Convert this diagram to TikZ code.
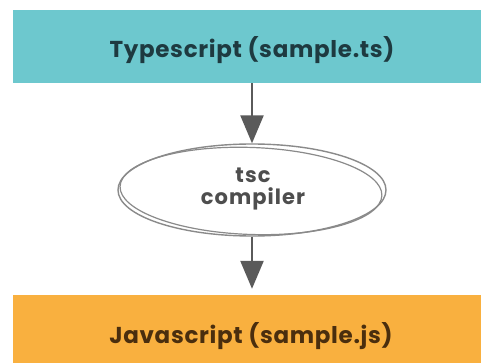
\documentclass[tikz,border=0pt]{standalone}
\usepackage{fontspec}
\newfontfamily\labelfont{Poppins}[LetterSpace=3]
\newfontfamily\complabelfont{Poppins}[LetterSpace=5]
\usetikzlibrary{shapes.geometric,arrows.meta}
\definecolor{tsteal}{HTML}{6DC8CE}
\definecolor{jsorange}{HTML}{F9B03F}
\definecolor{arrowgray}{HTML}{5A5A5A}
\definecolor{ellgray}{HTML}{8A8A8A}
\definecolor{tstext}{HTML}{1E3A40}
\definecolor{jstext}{HTML}{4A2E0E}
\definecolor{comptext}{HTML}{4E4E4E}
\tikzset{
  box/.style={rectangle, inner sep=0pt, minimum width=468pt},
  boxtext/.style={font=\labelfont\bfseries\fontsize{23}{25}\selectfont, inner sep=0pt},
  flowarrow/.style={draw=arrowgray, line width=2.4pt, -{Triangle[length=28pt,width=23pt]}},
  compell/.style={ellipse, draw=ellgray, line width=1.4pt, minimum width=268pt, minimum height=92pt, inner sep=0pt},
}
\begin{document}
\begin{tikzpicture}[x=1pt,y=-1pt]
\useasboundingbox (0,0) rectangle (481,363);
\fill[white] (0,0) rectangle (481,363);
\node[box, fill=tsteal, minimum height=73pt] (ts) at (247,46.5) {};
\node[boxtext, text=tstext] (tslabel) at (252,50) {Typescript (sample.ts)};
\node[box, fill=jsorange, minimum height=68pt] (js) at (247,329) {};
\node[boxtext, text=jstext] (jslabel) at (251,336) {Javascript (sample.js)};
\node[compell] (comp) at (252,190) {};
\draw[ellgray, line width=1.2pt, rotate around={-2:(252,190)}] (251,191) ellipse [x radius=131pt, y radius=43.5pt];
\node[align=center, text=comptext, font=\complabelfont\bfseries\fontsize{21}{22}\selectfont, inner sep=0pt] (complabel) at (253,189) {tsc\\compiler};
\draw[flowarrow] (ts.south -| comp.north) -- (comp.north);
\draw[flowarrow, shorten >=6pt] (comp.south) -- (comp.south |- js.north);
\end{tikzpicture}
\end{document}
